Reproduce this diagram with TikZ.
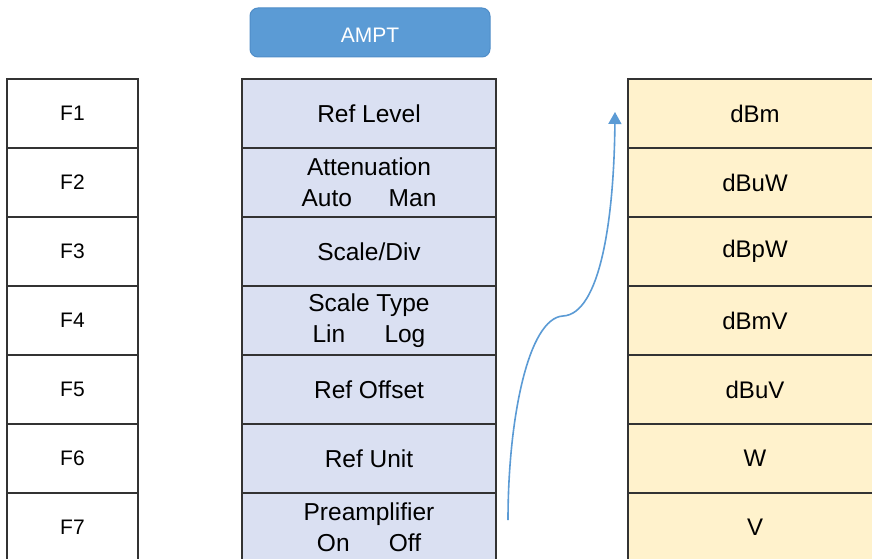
\documentclass[tikz,border=0pt]{standalone}
\usepackage{fontspec}
\setmainfont{Liberation Sans}
\usetikzlibrary{arrows.meta}
\definecolor{midfill}{HTML}{DAE0F2}
\definecolor{rightfill}{HTML}{FFF2CC}
\definecolor{bluebtn}{HTML}{5B9BD5}
\definecolor{bluebord}{HTML}{4F8DC8}
\definecolor{edge}{HTML}{333333}
\tikzset{
  cell/.style={draw=edge, line width=1.5pt, minimum height=69pt, inner sep=0pt, anchor=center},
  fcell/.style={cell, minimum width=131pt, fill=white, font=\fontsize{21}{26}\selectfont},
  mcell/.style={cell, minimum width=254pt, fill=midfill, align=center, font=\fontsize{24.5}{31}\selectfont},
  rcell/.style={cell, minimum width=254pt, fill=rightfill, font=\fontsize{24}{28}\selectfont},
  btn/.style={draw=bluebord, line width=1pt, fill=bluebtn, rounded corners=8pt, minimum width=240pt, minimum height=49pt, text=white, font=\fontsize{21}{26}\selectfont, inner sep=0pt, text height=20pt, text depth=0pt},
  flow/.style={draw=bluebtn, line width=1.6pt, -{Triangle[width=13pt,length=12pt]}}
}
\begin{document}
\begin{tikzpicture}[x=1pt,y=-1pt]
\useasboundingbox (0,0) rectangle (872,559);
\clip (0,0) rectangle (872,559);
\fill[white] (0,0) rectangle (872,559);
\node[btn] (ampt) at (370,32.5) {AMPT};
% left column
\node[fcell] (f1) at (72.5,113.5) {F1};
\node[fcell] (f2) at (72.5,182.5) {F2};
\node[fcell] (f3) at (72.5,251.5) {F3};
\node[fcell] (f4) at (72.5,320.5) {F4};
\node[fcell] (f5) at (72.5,389.5) {F5};
\node[fcell] (f6) at (72.5,458.5) {F6};
\node[fcell] (f7) at (72.5,527.5) {F7};
% middle column
\node[mcell] (m1) at (369,113.5) {Ref Level};
\node[mcell] (m2) at (369,182.5) {Attenuation\\Auto\hspace{1.5em}Man};
\node[mcell] (m3) at (369,251.5) {Scale/Div};
\node[mcell] (m4) at (369,320.5) {Scale Type\\Lin\hspace{1.6em}Log};
\node[mcell] (m5) at (369,389.5) {Ref Offset};
\node[mcell] (m6) at (369,458.5) {Ref Unit};
\node[mcell] (m7) at (369,527.5) {Preamplifier\\On\hspace{1.6em}Off};
% right column
\node[rcell] (r1) at (755,113.5) {dBm};
\node[rcell] (r2) at (755,182.5) {dBuW};
\node[rcell] (r3) at (755,251.5) {dBpW};
\node[rcell] (r4) at (755,320.5) {dBmV};
\node[rcell] (r5) at (755,389.5) {dBuV};
\node[rcell] (r6) at (755,458.5) {W};
\node[rcell] (r7) at (755,527.5) {V};
% arrow
\coordinate (astart) at (508,520);
\coordinate (amid) at (563,316);
\coordinate (aend) at (615,112);
\draw[flow] (astart) .. controls (508,420) and (528,318) .. (amid)
  .. controls (600,314) and (614,220) .. (aend);
\end{tikzpicture}
\end{document}
